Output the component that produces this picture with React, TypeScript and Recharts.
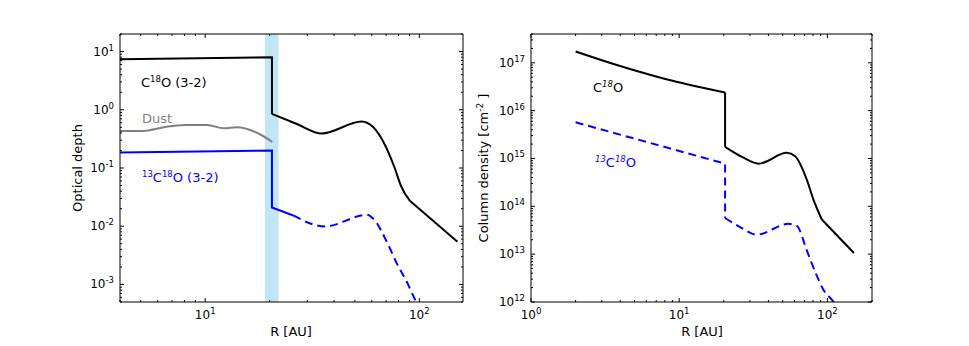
import React from "react";
import {
  LineChart,
  Line,
  XAxis,
  YAxis,
  ReferenceArea,
} from "recharts";

// Optical depth panel (left)
const c18oTauInner = [
  { r: 4, v: 7.4 },
  { r: 20.5, v: 8.0 },
  { r: 20.5, v: 0.85 },
];
const c18oTauOuter = [
  { r: 20.5, v: 0.85 },
  { r: 26.8, v: 0.57 },
  { r: 35, v: 0.39 },
  { r: 53.8, v: 0.63 },
  { r: 61, v: 0.5 },
  { r: 68, v: 0.28 },
  { r: 77, v: 0.097 },
  { r: 82, v: 0.05 },
  { r: 90.6, v: 0.027 },
];
const c18oTauTail = [
  { r: 90.6, v: 0.027 },
  { r: 150.7, v: 0.0054 },
];
const dustTau = [
  { r: 4, v: 0.43 },
  { r: 5, v: 0.43 },
  { r: 6.85, v: 0.52 },
  { r: 8.2, v: 0.55 },
  { r: 10.2, v: 0.55 },
  { r: 12.2, v: 0.48 },
  { r: 14, v: 0.5 },
  { r: 18, v: 0.38 },
  { r: 20.6, v: 0.28 },
];
const c13TauInner = [
  { r: 4, v: 0.185 },
  { r: 20.5, v: 0.2 },
  { r: 20.5, v: 0.021 },
  { r: 25.8, v: 0.0153 },
];
const c13TauOuter = [
  { r: 25.8, v: 0.0153 },
  { r: 36.3, v: 0.0099 },
  { r: 56.9, v: 0.0157 },
  { r: 61, v: 0.0134 },
  { r: 71.8, v: 0.0047 },
  { r: 78.5, v: 0.0023 },
  { r: 87.5, v: 0.0011 },
  { r: 95.6, v: 0.00055 },
  { r: 105, v: 0.0003 },
];

// Column density panel (right)
const c18oColInner = [
  { r: 2, v: 1.72e17 },
  { r: 3.7, v: 9.2e16 },
  { r: 8.05, v: 4.6e16 },
  { r: 20.4, v: 2.4e16 },
];
const c18oColDrop = [
  { r: 20.4, v: 2.4e16 },
  { r: 20.4, v: 1.75e15 },
];
const c18oColOuter = [
  { r: 20.4, v: 1.75e15 },
  { r: 26.5, v: 1.08e15 },
  { r: 34.3, v: 7.8e14 },
  { r: 53.2, v: 1.31e15 },
  { r: 60.6, v: 1.11e15 },
  { r: 72.6, v: 3.6e14 },
  { r: 80.5, v: 1.38e14 },
  { r: 91.7, v: 5.3e13 },
];
const c18oColTail = [
  { r: 91.7, v: 5.3e13 },
  { r: 151, v: 1.06e13 },
];
const c13ColInner = [
  { r: 2, v: 5.7e15 },
  { r: 20.4, v: 7.8e14 },
  { r: 20.4, v: 5.7e13 },
];
const c13ColOuter = [
  { r: 20.4, v: 5.7e13 },
  { r: 26.5, v: 3.5e13 },
  { r: 33.4, v: 2.56e13 },
  { r: 54.6, v: 4.3e13 },
  { r: 62.2, v: 3.9e13 },
  { r: 72.6, v: 1.2e13 },
  { r: 84, v: 3.8e12 },
  { r: 94, v: 1.8e12 },
  { r: 110, v: 1e12 },
  { r: 120, v: 6e11 },
];

const gapBand = [19, 22];

const tauDomain = [5e-4, 20];
const colDomain = [1e12, 4e17];
const rDomainLeft = [4, 160];
const rDomainRight = [1, 200];

const tauDecades = [-4, -3, -2, -1, 0, 1];
const colDecades = [12, 13, 14, 15, 16, 17];
const rDecades = [0, 1, 2];

const FONT = "'DejaVu Sans', sans-serif";

function logTicks(decades: number[], domain: number[]) {
  const out: number[] = [];
  decades.forEach((d) => {
    for (let m = 1; m < 10; m++) {
      const v = m * Math.pow(10, d);
      if (v >= domain[0] * 0.999 && v <= domain[1] * 1.001) out.push(v);
    }
  });
  return out;
}

function Pow({ e }: { e: number }) {
  return (
    <>
      <tspan>10</tspan>
      <tspan dy={-5} fontSize={8.5}>
        {e < 0 ? "-" + Math.abs(e) : String(e)}
      </tspan>
    </>
  );
}

function LogTick(props: any) {
  const { x, y, payload, side, label } = props;
  const v = payload.value;
  const e = Math.log10(v);
  const major = Math.abs(e - Math.round(e)) < 1e-6;
  const len = major ? 4 : 2;
  let tick: React.ReactNode = null;
  let text: React.ReactNode = null;
  if (side === "bottom") {
    tick = <line x1={x} x2={x} y1={y} y2={y - len} stroke="#000" />;
    if (label && major)
      text = (
        <text x={x} y={y + 17} textAnchor="middle" fontSize={12} fontFamily={FONT} fill="#000">
          <Pow e={Math.round(e)} />
        </text>
      );
  } else if (side === "top") {
    tick = <line x1={x} x2={x} y1={y} y2={y + len} stroke="#000" />;
  } else if (side === "left") {
    tick = <line x1={x} x2={x + len} y1={y} y2={y} stroke="#000" />;
    if (label && major)
      text = (
        <text x={x - 6} y={y + 4} textAnchor="end" fontSize={12} fontFamily={FONT} fill="#000">
          <Pow e={Math.round(e)} />
        </text>
      );
  } else {
    tick = <line x1={x} x2={x - len} y1={y} y2={y} stroke="#000" />;
  }
  return (
    <g>
      {tick}
      {text}
    </g>
  );
}

function Panel(props: {
  width: number;
  margin: any;
  xDomain: number[];
  yDomain: number[];
  xTicks: number[];
  yTicks: number[];
  children: React.ReactNode;
}) {
  const { width, margin, xDomain, yDomain, xTicks, yTicks, children } = props;
  return (
    <LineChart width={width} height={346} margin={margin}>
      <XAxis
        dataKey="r"
        type="number"
        scale="log"
        domain={xDomain}
        allowDataOverflow
        ticks={xTicks}
        interval={0}
        height={1}
        tickSize={0}
        tickMargin={0}
        tickLine={false}
        axisLine={{ stroke: "#000" }}
        tick={(p: any) => <LogTick {...p} side="bottom" label />}
      />
      <XAxis
        xAxisId="top"
        orientation="top"
        dataKey="r"
        type="number"
        scale="log"
        domain={xDomain}
        allowDataOverflow
        ticks={xTicks}
        interval={0}
        height={1}
        tickSize={0}
        tickMargin={0}
        tickLine={false}
        axisLine={{ stroke: "#000" }}
        tick={(p: any) => <LogTick {...p} side="top" />}
      />
      <YAxis
        dataKey="v"
        type="number"
        scale="log"
        domain={yDomain}
        allowDataOverflow
        ticks={yTicks}
        interval={0}
        width={1}
        tickSize={0}
        tickMargin={0}
        tickLine={false}
        axisLine={{ stroke: "#000" }}
        tick={(p: any) => <LogTick {...p} side="left" label />}
      />
      <YAxis
        yAxisId="right"
        orientation="right"
        dataKey="v"
        type="number"
        scale="log"
        domain={yDomain}
        allowDataOverflow
        ticks={yTicks}
        interval={0}
        width={1}
        tickSize={0}
        tickMargin={0}
        tickLine={false}
        axisLine={{ stroke: "#000" }}
        tick={(p: any) => <LogTick {...p} side="right" />}
      />
      {children}
    </LineChart>
  );
}

const lineProps = {
  dataKey: "v",
  dot: false,
  activeDot: false,
  isAnimationActive: false,
  strokeWidth: 2,
} as const;

export default function App() {
  const tauTicks = logTicks(tauDecades, tauDomain);
  const colTicks = logTicks(colDecades, colDomain);
  const xTicksLeft = logTicks(rDecades, rDomainLeft);
  const xTicksRight = logTicks(rDecades, rDomainRight);

  return (
    <div style={{ position: "absolute", left: 0, top: 0, width: 969, height: 346, background: "#fff" }}>
      <div style={{ position: "absolute", left: 0, top: 0 }}>
        <Panel
          width={480}
          margin={{ top: 33, right: 16, bottom: 43, left: 119 }}
          xDomain={rDomainLeft}
          yDomain={tauDomain}
          xTicks={xTicksLeft}
          yTicks={tauTicks}
        >
          <ReferenceArea x1={gapBand[0]} x2={gapBand[1]} fill="#87ceeb" fillOpacity={0.5} stroke="none" />
          <Line {...lineProps} data={dustTau} type="monotone" stroke="#808080" />
          <Line {...lineProps} data={c18oTauInner} type="linear" stroke="#000" />
          <Line {...lineProps} data={c18oTauOuter} type="monotone" stroke="#000" />
          <Line {...lineProps} data={c18oTauTail} type="linear" stroke="#000" />
          <Line {...lineProps} data={c13TauInner} type="linear" stroke="#0000ff" />
          <Line {...lineProps} data={c13TauOuter} type="monotone" stroke="#0000ff" strokeDasharray="8 5" />
        </Panel>
      </div>
      <div style={{ position: "absolute", left: 480, top: 0 }}>
        <Panel
          width={489}
          margin={{ top: 33, right: 96, bottom: 43, left: 50 }}
          xDomain={rDomainRight}
          yDomain={colDomain}
          xTicks={xTicksRight}
          yTicks={colTicks}
        >
          <Line {...lineProps} data={c18oColInner} type="monotone" stroke="#000" />
          <Line {...lineProps} data={c18oColDrop} type="linear" stroke="#000" />
          <Line {...lineProps} data={c18oColOuter} type="monotone" stroke="#000" />
          <Line {...lineProps} data={c18oColTail} type="linear" stroke="#000" />
          <Line {...lineProps} data={c13ColInner} type="linear" stroke="#0000ff" strokeDasharray="8 5" />
          <Line {...lineProps} data={c13ColOuter} type="monotone" stroke="#0000ff" strokeDasharray="8 5" />
        </Panel>
      </div>
      <svg
        width={969}
        height={346}
        style={{ position: "absolute", left: 0, top: 0, pointerEvents: "none" }}
        fontFamily={FONT}
      >
        <text x={82} y={168} transform="rotate(-90 82 168)" textAnchor="middle" fontSize={13}>
          Optical depth
        </text>
        <text x={291} y={336} textAnchor="middle" fontSize={13}>
          R [AU]
        </text>
        <text x={488} y={168} transform="rotate(-90 488 168)" textAnchor="middle" fontSize={13}>
          Column density [cm
          <tspan dy={-5} fontSize={9}>-2</tspan>
          <tspan dy={5}> ]</tspan>
        </text>
        <text x={702} y={336} textAnchor="middle" fontSize={13}>
          R [AU]
        </text>

        <text x={141} y={87} fontSize={13} fill="#000">
          C<tspan dy={-5} fontSize={8.5}>18</tspan>
          <tspan dy={5}>O (3-2)</tspan>
        </text>
        <text x={142} y={123} fontSize={13} fill="#808080">
          Dust
        </text>
        <text x={142} y={182} fontSize={13} fill="#0000ff">
          <tspan dy={-5} fontSize={8.5}>13</tspan>
          <tspan dy={5}>C</tspan>
          <tspan dy={-5} fontSize={8.5}>18</tspan>
          <tspan dy={5}>O (3-2)</tspan>
        </text>

        <text x={593} y={92} fontSize={13} fill="#000">
          C<tspan dy={-5} fontSize={8.5} fontStyle="italic">18</tspan>
          <tspan dy={5}>O</tspan>
        </text>
        <text x={595} y={167} fontSize={13} fill="#0000ff">
          <tspan dy={-5} fontSize={8.5} fontStyle="italic">13</tspan>
          <tspan dy={5}>C</tspan>
          <tspan dy={-5} fontSize={8.5} fontStyle="italic">18</tspan>
          <tspan dy={5}>O</tspan>
        </text>
      </svg>
    </div>
  );
}
